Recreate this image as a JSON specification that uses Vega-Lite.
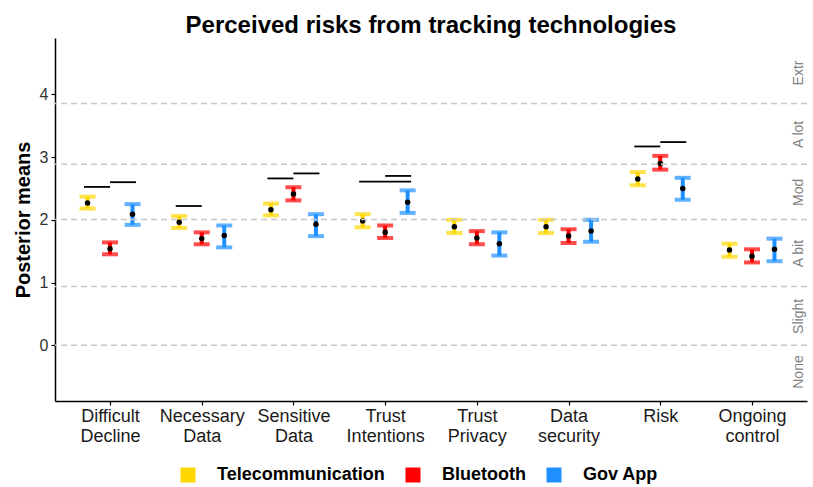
{
  "$schema": "https://vega.github.io/schema/vega-lite/v6.json",
  "width": 752,
  "height": 363,
  "autosize": {"type": "none"},
  "padding": {"left": 55, "top": 38, "right": 6, "bottom": 86},
  "background": "white",
  "title": {
    "text": "Perceived risks from tracking technologies",
    "fontSize": 24,
    "fontWeight": "bold",
    "font": "Liberation Sans",
    "color": "black",
    "anchor": "middle",
    "baseline": "alphabetic",
    "offset": 3,
    "dy": 22
  },
  "config": {
    "view": {"stroke": null},
    "font": "Liberation Sans",
    "axis": {"grid": false}
  },
  "datasets": {
    "est": [
      {"item": "Difficult Decline", "group": "Telecommunication", "mean": 2.27, "lo": 2.18, "hi": 2.37},
      {"item": "Difficult Decline", "group": "Bluetooth", "mean": 1.54, "lo": 1.45, "hi": 1.64},
      {"item": "Difficult Decline", "group": "Gov App", "mean": 2.09, "lo": 1.92, "hi": 2.25},
      {"item": "Necessary Data", "group": "Telecommunication", "mean": 1.96, "lo": 1.87, "hi": 2.06},
      {"item": "Necessary Data", "group": "Bluetooth", "mean": 1.70, "lo": 1.61, "hi": 1.80},
      {"item": "Necessary Data", "group": "Gov App", "mean": 1.75, "lo": 1.56, "hi": 1.91},
      {"item": "Sensitive Data", "group": "Telecommunication", "mean": 2.16, "lo": 2.07, "hi": 2.26},
      {"item": "Sensitive Data", "group": "Bluetooth", "mean": 2.41, "lo": 2.31, "hi": 2.52},
      {"item": "Sensitive Data", "group": "Gov App", "mean": 1.93, "lo": 1.74, "hi": 2.09},
      {"item": "Trust Intentions", "group": "Telecommunication", "mean": 1.98, "lo": 1.88, "hi": 2.09},
      {"item": "Trust Intentions", "group": "Bluetooth", "mean": 1.80, "lo": 1.71, "hi": 1.91},
      {"item": "Trust Intentions", "group": "Gov App", "mean": 2.28, "lo": 2.11, "hi": 2.47},
      {"item": "Trust Privacy", "group": "Telecommunication", "mean": 1.89, "lo": 1.79, "hi": 2.00},
      {"item": "Trust Privacy", "group": "Bluetooth", "mean": 1.71, "lo": 1.61, "hi": 1.82},
      {"item": "Trust Privacy", "group": "Gov App", "mean": 1.62, "lo": 1.43, "hi": 1.80},
      {"item": "Data security", "group": "Telecommunication", "mean": 1.89, "lo": 1.79, "hi": 2.00},
      {"item": "Data security", "group": "Bluetooth", "mean": 1.74, "lo": 1.63, "hi": 1.85},
      {"item": "Data security", "group": "Gov App", "mean": 1.82, "lo": 1.65, "hi": 2.00},
      {"item": "Risk", "group": "Telecommunication", "mean": 2.65, "lo": 2.55, "hi": 2.76},
      {"item": "Risk", "group": "Bluetooth", "mean": 2.90, "lo": 2.80, "hi": 3.02},
      {"item": "Risk", "group": "Gov App", "mean": 2.50, "lo": 2.32, "hi": 2.67},
      {"item": "Ongoing control", "group": "Telecommunication", "mean": 1.52, "lo": 1.41, "hi": 1.62},
      {"item": "Ongoing control", "group": "Bluetooth", "mean": 1.42, "lo": 1.32, "hi": 1.53},
      {"item": "Ongoing control", "group": "Gov App", "mean": 1.53, "lo": 1.34, "hi": 1.70}
    ],
    "sig": [
      {"item": "Difficult Decline", "pair": "T-B", "value": 2.525},
      {"item": "Difficult Decline", "pair": "B-G", "value": 2.60},
      {"item": "Necessary Data", "pair": "T-B", "value": 2.22},
      {"item": "Sensitive Data", "pair": "T-B", "value": 2.66},
      {"item": "Sensitive Data", "pair": "B-G", "value": 2.74},
      {"item": "Trust Intentions", "pair": "T-G", "value": 2.61},
      {"item": "Trust Intentions", "pair": "B-G", "value": 2.70},
      {"item": "Risk", "pair": "T-B", "value": 3.17},
      {"item": "Risk", "pair": "B-G", "value": 3.24}
    ],
    "thr": [
      {"threshold": 0},
      {"threshold": 0.936},
      {"threshold": 2.005},
      {"threshold": 2.887},
      {"threshold": 3.855}
    ]
  },
  "layer": [
    {
      "data": {"name": "est"},
      "mark": {"type": "rule", "strokeWidth": 4},
      "encoding": {
        "x": {
          "field": "item", "type": "nominal", "sort": null,
          "scale": {"type": "point", "padding": 0.6},
          "axis": {
            "title": null, "labelAngle": 0, "labelFontSize": 18, "labelColor": "#1a1a1a",
            "labelExpr": "split(datum.label, ' ')", "labelLineHeight": 20,
            "domainColor": "black", "domainWidth": 1.5, "tickColor": "black", "tickSize": 4, "tickWidth": 1.2,
            "labelPadding": 2
          }
        },
        "xOffset": {
          "field": "group", "type": "nominal",
          "scale": {"type": "point", "domain": ["Telecommunication", "Bluetooth", "Gov App"], "range": [-22.5, 22.5], "padding": 0}
        },
        "y": {
          "field": "lo", "type": "quantitative",
          "scale": {"domain": [-0.89, 4.9], "nice": false, "zero": false},
          "axis": {
            "title": "Posterior means", "titleFontSize": 20, "titleFontWeight": "bold", "titleColor": "black", "titlePadding": 6,
            "values": [0, 1, 2, 3, 4], "labelFontSize": 16, "labelColor": "#333333",
            "domainColor": "black", "domainWidth": 1.5, "tickColor": "black", "tickSize": 4, "tickWidth": 1.2, "labelPadding": 3
          }
        },
        "y2": {"field": "hi"},
        "color": {
          "field": "group", "type": "nominal",
          "scale": {"domain": ["Telecommunication", "Bluetooth", "Gov App"], "range": ["#FFD700", "#FF0000", "#1E90FF"]},
          "legend": {
            "title": null, "orient": "none", "direction": "horizontal", "legendX": 124, "legendY": 428,
            "symbolType": "square", "symbolSize": 225, "labelFontSize": 18, "labelFontWeight": "bold", "labelColor": "black",
            "labelOffset": 20, "columnPadding": 19, "labelLimit": 400, "padding": 0,
            "encode": {"symbols": {"update": {"fill": {"scale": "color", "field": "value"}, "strokeWidth": {"value": 0}, "opacity": {"value": 1}}}}
          }
        }
      }
    },
    {
      "data": {"name": "est"},
      "mark": {"type": "tick", "size": 16, "thickness": 4, "orient": "horizontal"},
      "encoding": {
        "x": {"field": "item", "type": "nominal", "sort": null},
        "xOffset": {"field": "group", "type": "nominal", "scale": {"type": "point", "domain": ["Telecommunication", "Bluetooth", "Gov App"], "range": [-22.5, 22.5], "padding": 0}},
        "y": {"field": "lo", "type": "quantitative", "axis": null},
        "color": {"field": "group", "type": "nominal"}
      }
    },
    {
      "data": {"name": "est"},
      "mark": {"type": "tick", "size": 16, "thickness": 4, "orient": "horizontal"},
      "encoding": {
        "x": {"field": "item", "type": "nominal", "sort": null},
        "xOffset": {"field": "group", "type": "nominal", "scale": {"type": "point", "domain": ["Telecommunication", "Bluetooth", "Gov App"], "range": [-22.5, 22.5], "padding": 0}},
        "y": {"field": "hi", "type": "quantitative", "axis": null},
        "color": {"field": "group", "type": "nominal"}
      }
    },
    {
      "data": {"name": "est"},
      "mark": {"type": "circle", "size": 30, "color": "black", "opacity": 1},
      "encoding": {
        "x": {"field": "item", "type": "nominal", "sort": null},
        "xOffset": {"field": "group", "type": "nominal", "scale": {"type": "point", "domain": ["Telecommunication", "Bluetooth", "Gov App"], "range": [-22.5, 22.5], "padding": 0}},
        "y": {"field": "mean", "type": "quantitative", "axis": null}
      }
    },
    {
      "data": {"name": "sig"},
      "transform": [{"filter": "datum.pair != 'T-G'"}],
      "mark": {"type": "tick", "thickness": 1.8, "size": 26, "color": "black", "opacity": 1, "orient": "horizontal"},
      "encoding": {
        "x": {"field": "item", "type": "nominal", "sort": null},
        "xOffset": {"field": "pair", "type": "nominal", "scale": {"type": "point", "domain": ["T-B", "T-G", "B-G"], "range": [-13, 13], "padding": 0}},
        "y": {"field": "value", "type": "quantitative", "axis": null}
      }
    },
    {
      "data": {"name": "sig"},
      "transform": [{"filter": "datum.pair == 'T-G'"}],
      "mark": {"type": "tick", "thickness": 1.8, "size": 52, "color": "black", "opacity": 1, "orient": "horizontal"},
      "encoding": {
        "x": {"field": "item", "type": "nominal", "sort": null},
        "xOffset": {"field": "pair", "type": "nominal", "scale": {"type": "point", "domain": ["T-B", "T-G", "B-G"], "range": [-13, 13], "padding": 0}},
        "y": {"field": "value", "type": "quantitative", "axis": null}
      }
    },
    {
      "data": {"name": "thr"},
      "mark": {"type": "rule", "color": "#c8c8c8", "strokeWidth": 1.5, "strokeDash": [6, 4]},
      "encoding": {
        "y": {
          "field": "threshold", "type": "quantitative",
          "axis": {
            "orient": "right", "title": null, "domain": false, "ticks": false, "offset": -9,
            "values": [-0.42, 0.468, 1.47, 2.446, 3.37, 4.35],
            "labelExpr": "datum.value < 0 ? 'None' : datum.value < 0.9 ? 'Slight' : datum.value < 2 ? 'A bit' : datum.value < 2.8 ? 'Mod' : datum.value < 3.8 ? 'A lot' : 'Extr'",
            "labelAngle": -90, "labelAlign": "center", "labelBaseline": "middle", "labelPadding": 0,
            "labelFontSize": 14, "labelColor": "#7f7f7f"
          }
        }
      }
    }
  ],
  "resolve": {"axis": {"y": "independent"}, "scale": {"xOffset": "independent"}}
}
